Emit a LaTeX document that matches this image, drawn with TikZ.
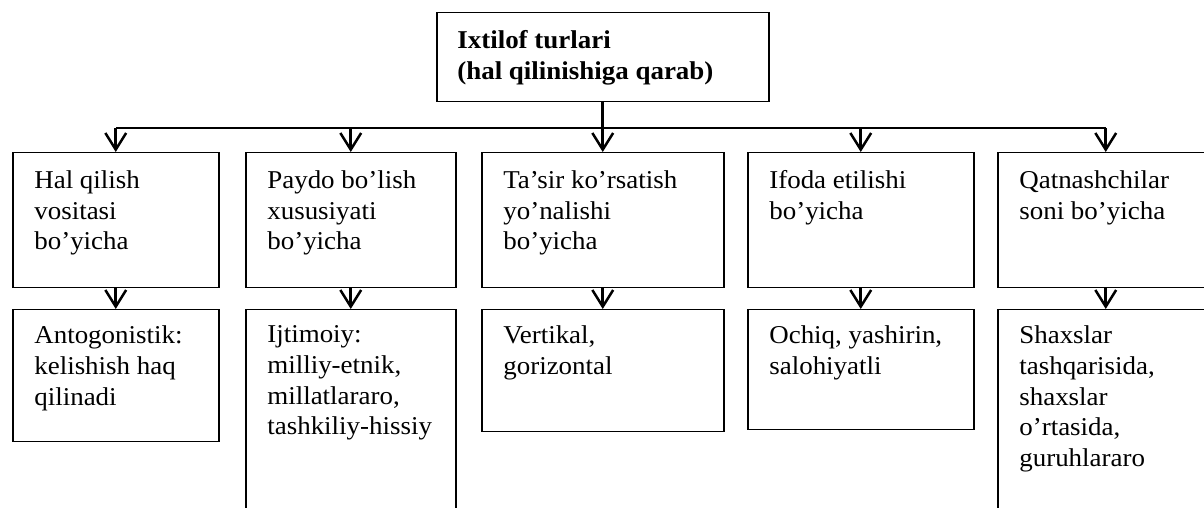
\documentclass[tikz,border=0pt]{standalone}
\usepackage{fontspec}
\setmainfont{Liberation Serif}[FakeStretch=1.05]
\usetikzlibrary{arrows.meta}

\tikzset{
  box/.style={draw,line width=0.9pt,anchor=north west,inner sep=0pt},
  sz/.style 2 args={minimum width=#1*0.6pt,minimum height=#2*0.6pt},
  txt/.style={anchor=north west,inner sep=0pt,align=left,
    font=\fontsize{15.4}{18.4}\selectfont,execute at begin node=\strut},
  link/.style={line width=1.6pt},
  arr/.style={line width=1.6pt,-{Straight Barb[length=10pt,width=12.5pt,line width=1.5pt]}}
}

\begin{document}
\begin{tikzpicture}[x=0.6pt,y=-0.6pt]
  \clip (0,0) rectangle (1204,508);
  \useasboundingbox (0,0) rectangle (1204,508);

  % boxes
  \node[box,sz={332}{89}]  (top) at (436,12) {};
  \node[box,sz={206}{135}] (b1) at (12,152) {};
  \node[box,sz={210}{135}] (b2) at (245,152) {};
  \node[box,sz={242}{135}] (b3) at (481,152) {};
  \node[box,sz={226}{135}] (b4) at (747,152) {};
  \node[box,sz={216}{135}] (b5) at (997,152) {};
  \node[box,sz={206}{132}] (c1) at (12,309) {};
  \node[box,sz={210}{230}] (c2) at (245,309) {};
  \node[box,sz={242}{122}] (c3) at (481,309) {};
  \node[box,sz={226}{120}] (c4) at (747,309) {};
  \node[box,sz={216}{230}] (c5) at (997,309) {};

  % texts
  \node[txt,font=\fontsize{15.4}{18.4}\selectfont\bfseries] (ttop) at ([xshift=12.6pt,yshift=-11pt]top.north west)
    {Ixtilof turlari\\(hal qilinishiga qarab)};
  \node[txt] (tb1) at ([xshift=13.2pt,yshift=-11pt]b1.north west) {Hal qilish\\vositasi\\bo’yicha};
  \node[txt] (tb2) at ([xshift=13.2pt,yshift=-11pt]b2.north west) {Paydo bo’lish\\xususiyati\\bo’yicha};
  \node[txt] (tb3) at ([xshift=13.2pt,yshift=-11pt]b3.north west) {Ta’sir ko’rsatish\\yo’nalishi\\bo’yicha};
  \node[txt] (tb4) at ([xshift=13.2pt,yshift=-11pt]b4.north west) {Ifoda etilishi\\bo’yicha};
  \node[txt] (tb5) at ([xshift=13.2pt,yshift=-11pt]b5.north west) {Qatnashchilar\\soni bo’yicha};
  \node[txt] (tc1) at ([xshift=13.2pt,yshift=-10pt]c1.north west) {Antogonistik:\\kelishish haq\\qilinadi};
  \node[txt] (tc2) at ([xshift=13.2pt,yshift=-10pt]c2.north west) {Ijtimoiy:\\milliy-etnik,\\millatlararo,\\tashkiliy-hissiy};
  \node[txt] (tc3) at ([xshift=13.2pt,yshift=-10pt]c3.north west) {Vertikal,\\gorizontal};
  \node[txt] (tc4) at ([xshift=13.2pt,yshift=-10pt]c4.north west) {Ochiq, yashirin,\\salohiyatli};
  \node[txt] (tc5) at ([xshift=13.2pt,yshift=-10pt]c5.north west) {Shaxslar\\tashqarisida,\\shaxslar\\o’rtasida,\\guruhlararo};

  % connectors
  \coordinate (bus) at (0,128);
  \draw[link] (top.south) -- (top.south |- bus);
  \draw[link] (b1.north |- bus) -- (b5.north |- bus);
  \draw[arr] (b1.north |- bus) -- (b1.north);
  \draw[arr] (b2.north |- bus) -- (b2.north);
  \draw[arr] (b3.north |- bus) -- (b3.north);
  \draw[arr] (b4.north |- bus) -- (b4.north);
  \draw[arr] (b5.north |- bus) -- (b5.north);
  \draw[arr] (b1.south) -- (c1.north);
  \draw[arr] (b2.south) -- (c2.north);
  \draw[arr] (b3.south) -- (c3.north);
  \draw[arr] (b4.south) -- (c4.north);
  \draw[arr] (b5.south) -- (c5.north);

\end{tikzpicture}
\end{document}
